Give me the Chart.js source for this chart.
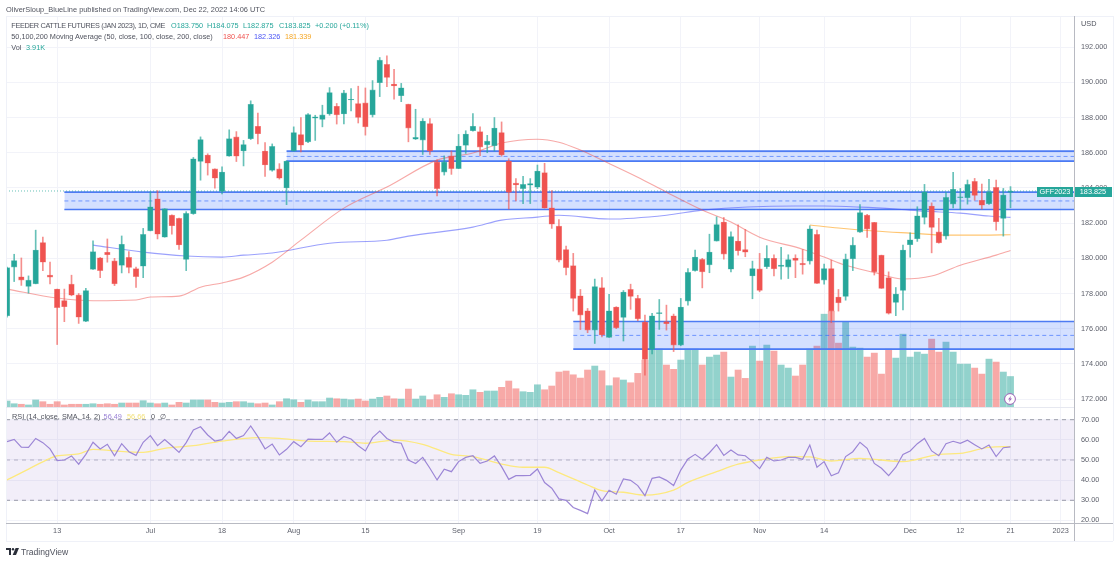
<!DOCTYPE html>
<html><head><meta charset="utf-8">
<script src="https://cdn.jsdelivr.net/npm/chart.js@4/dist/chart.umd.min.js"></script>
<style>
html,body{margin:0;padding:0;background:#fff;width:1120px;height:563px;overflow:hidden}
#wrap{position:absolute;left:0;top:0;width:1120px;height:563px;filter:blur(.3px)}
canvas{position:absolute;left:0;top:0}
.t{position:absolute;font-family:"Liberation Sans",Arial,sans-serif;font-size:7.3px;line-height:10px;color:#50535e;white-space:pre}
.l{position:absolute}
</style></head><body>
<div id="wrap">
<canvas id="main" width="1120" height="563"></canvas>
<canvas id="rsi" width="1120" height="563"></canvas>
<div id="overlay"></div>
</div>
<script>
const opens=[176.73,179.5,178.95,178.4,178.55,180.9,179.04,178.25,177.6,178.53,
177.92,176.42,179.37,180.03,180.34,179.85,179.6,180.05,179.41,179.55,
181.56,183.38,181.2,182.45,182.27,179.93,182.53,185.5,185.87,185.08,
183.8,185.8,186.9,186.1,186.8,187.5,186.1,185,185.08,184,
186.09,187.03,186.62,187.96,187.89,188.2,188.64,188.2,189,188.8,
188.83,188.15,189.98,191.02,189.9,189.24,188.76,186.77,186.72,187.66,
185.48,184.9,185.82,185.1,186.42,187.25,187.2,186.45,186.4,187.15,
185.53,184.27,183.96,184.15,184.04,184.87,182.87,181.83,180.5,179.58,
177.87,177.02,175.92,178.33,175.5,177.23,176.64,178.23,177.72,176.38,
174.82,176.85,176.4,176.73,175.07,177.57,179.3,179.94,179.63,180.98,
182.06,179.38,180.98,180.5,179,179.4,179.52,180,179.54,179.5,
180.02,179.71,179.84,181.36,178.76,179.42,177.8,177.83,179.97,181.49,
182.45,182.04,180.18,178.9,177.49,178.17,180.77,181.11,182.32,182.97,
181.5,181.26,183.08,183.45,183.44,184.37,183.3,183.1,184.03,182.26,183.75];
const highs=[179.5,180.23,180.02,179,181.6,181.2,179.78,178.25,178.25,179.04,
178,178.3,181,180.05,181.1,180,181.27,180.38,179.5,181.7,
183.78,183.85,182.82,182.47,182.28,182.65,185.73,186.9,185.94,185.08,
185.2,187.3,187.2,186.7,188.95,188.26,186.58,186.5,185.38,185.55,
187.47,188,188.23,188.13,188.7,189.7,188.8,189.55,189.65,189.78,
189.68,190.1,191.41,191.5,190.74,189.94,188.76,188.47,187.94,187.94,
185.6,185.82,186.1,187.04,187.25,188.23,187.47,186.99,188,187.75,
185.66,184.53,184.66,184.53,185.3,185.4,183.85,182.2,180.7,180.28,
178.23,177.15,178.82,178.9,177.95,177.25,178.17,178.53,177.9,176.77,
176.87,177.66,177.34,176.83,177.72,179.42,180.47,180,181.37,182.36,
182.32,181.5,181.9,181.64,179.84,180.28,180.72,180.2,180.62,180.2,
180.2,180.5,181.85,181.6,179.67,179.9,178.23,180.24,181.18,183.06,
182.5,182.04,180.18,179.23,178.34,180.75,181.45,182.93,184.2,183.15,
182.27,183.74,184.88,183.97,184.45,184.54,184.22,184.49,184.44,183.97,184.075];
const lows=[176.65,178.68,178.46,178.02,178.55,179.3,178.55,175.1,176.4,177.87,
176.3,176.4,179.37,178.9,179.78,178.45,179.17,179.17,178.35,178.9,
181.56,181.1,181.2,181.37,180.5,179.3,182.5,184.44,184.73,183.98,
183.66,185.8,185.5,185.25,186.75,186.5,184.65,184.95,184.5,183.05,
186.09,186.05,186.57,186.7,187.47,188.13,187.63,187.63,188.38,187.69,
187,188.03,189.19,189.75,189.05,188.9,186.62,186.75,185.9,185.9,
183.55,184.73,184.77,185.1,185.96,187.23,185.83,186,186.1,185.8,
182.8,183.26,183.11,183.11,183.96,182.85,181.7,179.8,179.05,177,
175.95,175.77,175.16,175.53,175.5,176,175.3,177.1,176.45,173.36,
174.56,175.96,175.92,174.7,175.03,177.34,179.27,178.32,179.18,180.98,
179.95,179.23,180.18,180.09,177.7,178.1,179.42,179,178.82,178.85,
178.9,179.1,179.67,178.57,178.53,176.34,177,177.62,179.3,181.47,
181.18,179.05,178.29,176.83,176.74,177.06,180.06,180.96,181.95,180.31,
180.86,181.09,182.87,182.78,183.08,183.3,182.8,183.06,181.6,181.26,182.875];
const closes=[179.47,179.87,178.76,178.76,180.47,179.78,178.93,177.2,177.25,177.9,
176.65,178.17,180.38,179.3,180.2,178.55,180.8,179.48,178.96,181.36,
182.93,181.37,182.82,181.85,180.76,182.55,185.66,186.75,185.4,184.55,
184.9,186.8,185.8,186.47,188.75,187.08,185.3,186.36,184.55,185.53,
187.15,186.43,188.17,188.04,188.15,189.42,188.15,189.4,189.03,188,
187.47,189.57,191.26,190.28,189.79,189.69,187.4,186.87,187.8,186.09,
183.96,185.48,185.1,186.38,187.06,187.5,186.32,186.66,187.4,185.87,
183.75,184.17,184.2,184.25,184.96,182.85,181.94,179.9,179.47,177.72,
176.77,175.92,178.4,175.64,177.02,176.05,178.08,177.83,176.56,174.25,
176.73,176.92,176.28,175.07,177.23,179.2,180.07,179.23,180.36,181.92,
180.24,181.24,180.43,180.35,179.42,178.17,180,179.4,179.62,179.93,
179.88,179.63,181.68,178.57,179.42,177,177.47,179.95,180.75,182.6,
181.66,179.23,178.29,176.87,177.97,180.47,181.05,182.42,183.78,181.75,
180.88,183.46,183.92,183.5,184.2,183.57,183.02,183.78,182.07,183.6,183.825];
const volumes=[.77,.42,.35,.26,.9,.68,.35,.68,.26,.35,
.35,.35,.42,.35,.42,.35,.51,.51,.51,.81,
.51,.42,.51,.26,.6,.51,.9,.9,.9,.6,
.51,.6,.68,.68,.51,.42,.51,.26,.68,1.06,
.93,.6,.9,.68,.68,1.15,1.06,1.02,.93,1.02,
.77,1.02,1.24,1.41,1.06,1.02,2.3,1.02,1.41,.93,
1.57,1.24,1.7,1.57,1.5,2.21,1.88,2.05,2.05,2.52,
3.33,2.34,1.96,1.88,2.85,2.21,2.69,4.48,4.61,4.13,
3.71,4.74,5.25,4.65,2.73,3.75,3.46,3.11,4.31,6.02,
7.42,7.42,5.38,4.83,6.02,7.42,7.42,5.38,6.4,6.66,
7.04,3.84,4.74,3.67,7.81,5.89,7.94,7.17,5.38,4.99,
3.97,5.38,7.42,7.81,11.9,12.29,8.19,10.88,7.68,7.55,
6.4,6.91,4.22,7.42,6.27,9.34,6.4,7.04,6.78,8.7,
7.04,8.32,7.04,5.5,5.5,4.99,4.22,6.14,5.76,4.48,3.91];
const rsiValues=[59.1,60.2,56.4,56.3,60.7,58.6,55.5,49.7,50,52,
47.9,52.8,58.8,55.5,57.8,52.1,58.1,54.1,52.3,58.8,
62.1,57.1,60.2,57.1,53.8,58.6,64.9,66.5,62.4,59.4,
60.1,64.2,60.7,62.1,66.9,61.6,55.5,57.9,52.5,55.3,
59.1,56.6,60.4,60.2,60.2,63.4,58.8,61.7,60.4,57.1,
54.5,61.1,64.4,60.7,58.9,58.3,50,48.3,51.3,45.9,
40.1,45.4,44.2,49.2,51.3,52.1,48.3,49.5,52,46.7,
40.4,42.2,42.2,42.4,45.5,38.8,36,30.7,30,26.4,
25,23.4,35.1,29.7,35,33,40.6,39.9,37.3,32.3,
40.9,41.6,39.9,37.3,45,50.5,52.8,50.3,53.6,57.6,
52.3,55,52.5,52.1,49.2,45.7,51.3,49.5,50,51.3,
51.3,50.3,57.4,46.4,49.2,42.2,43.7,51.7,54.1,58.8,
55.8,48.3,45.9,42.2,46.4,52.8,54.5,58.1,60.7,54.5,
52.1,58.1,59.3,58.3,59.8,57.6,55.5,57.4,51.7,56.1,56.49];
// moving averages, read at the bars named in the paired index list
const ma50Bars=[0,7,12,18,20,24,27,30,33,37,41,47,53,60,65,69,74,77,80,83,88,92,97,101,105,111,114,117,121,125,129,133,138,140];
const ma50Values=[178.25,177.74,177.59,177.63,177.8,177.85,178.36,178.6,178.93,179.78,181.03,182.85,184.05,185.58,185.98,186.55,186.77,186.6,186.15,185.58,184.61,183.76,182.74,182.06,181.2,180.52,180.07,179.6,179.2,178.82,178.99,179.61,180.18,180.447];
const ma100Bars=[12,19,25,30,33,37,45,53,56,65,69,74,77,84,92,97,110,114,119,124,128,133,137,140];
const ma100Values=[180.75,180.35,180.13,180.07,180.18,180.3,180.86,181.03,181.26,181.77,182.17,182.34,182.45,182.23,182.45,182.74,182.97,182.97,182.91,182.8,182.68,182.57,182.4,182.326];
const ma200Bars=[112,116,121,126,131,136,140];
const ma200Values=[181.89,181.72,181.55,181.43,181.32,181.32,181.339];
const rsiSmaBars=[0,3,6,7,10,12,15,19,22,26,30,35,38,42,47,50,54,58,62,65,69,72,75,77,81,83,86,89,93,95,99,102,105,109,112,115,119,125,130,133,137,140];
const rsiSmaValues=[40.1,45.5,50.8,52.1,53,55.3,54.5,53.8,55.8,57.1,59.4,61.1,60.7,59.4,59.1,58.3,59.9,57.8,52.8,51.7,48,46.4,46.4,43.7,37.6,34.8,34,32.6,35.1,38.9,44.2,47.9,50,51.7,51.5,49.5,50.8,49.2,52.8,53.3,56.3,56.66];
// price zones
const zoneStartBars=[8,39,79];
const zoneTops=[183.76,186.09,176.41];
const zoneMids=[183.26,185.79,175.62];
const zoneBottoms=[182.77,185.52,174.84];
// axis labels
const priceTicks=[172,174,176,178,180,182,184,186,188,190,192];
const rsiTicks=[20,30,40,50,60,70];
const timeTickBars=[7,20,30,40,50,63,74,84,94,105,114,126,133,140,147];
const timeTickLabels=['13','Jul','18','Aug','15','Sep','19','Oct','17','Nov','14','Dec','12','21','2023'];

const UP='#26a69a',DOWN='#ef5350';
const xMin=-0.14,xMax=148.86;
const isUp=i=>closes[i]>=opens[i];
const font={family:'"Liberation Sans",Arial,sans-serif',size:7.3};
const gridCol='#f2f3f9';
const pairs=(xs,ys)=>xs.map((x,i)=>({x,y:ys[i]}));
const hline=(a,b,v)=>[{x:a,y:v},{x:b,y:v}];
const xAxis=(labels)=>({type:'linear',min:xMin,max:xMax,offset:false,
  afterBuildTicks:s=>{s.ticks=timeTickBars.map(v=>({value:v}));},
  afterFit:s=>{s.height=labels?18:0;},
  grid:{color:gridCol,drawTicks:false,offset:false},border:{display:false},
  ticks:{display:labels,autoSkip:false,maxRotation:0,padding:4,color:'#5f626d',font,
    callback:v=>timeTickLabels[timeTickBars.indexOf(v)]}});
const yAxis=(min,max,ticks,dec)=>({position:'right',min,max,
  afterBuildTicks:s=>{s.ticks=ticks.map(v=>({value:v}));},
  afterFit:s=>{s.width=39;},
  grid:{color:gridCol,drawTicks:false},border:{display:false},
  ticks:{padding:7,color:'#5f626d',font,callback:v=>v.toFixed(dec)}});

const lineDs=(data,color,w,extra)=>Object.assign({type:'line',data,borderColor:color,borderWidth:w,pointRadius:0,fill:false,tension:0,order:4,yAxisID:'y'},extra||{});

const mainSets=[];
mainSets.push({type:'bar',yAxisID:'v',order:10,barThickness:6.2,grouped:false,
  data:volumes.map((v,i)=>({x:i,y:v})),
  backgroundColor:volumes.map((v,i)=>isUp(i)?'rgba(38,166,154,.5)':'rgba(239,83,80,.5)')});
zoneStartBars.forEach((s,k)=>{
  mainSets.push(lineDs(hline(s,xMax,zoneTops[k]),'#4d7bf3',1.6,{order:6,fill:'+1',backgroundColor:'rgba(41,98,255,.2)'}));
  mainSets.push(lineDs(hline(s,xMax,zoneBottoms[k]),'#4d7bf3',1.6,{order:6}));
  mainSets.push(lineDs(hline(s,xMax,zoneMids[k]),'rgba(41,98,255,.6)',1,{order:6,borderDash:[4,3]}));
});
mainSets.push(lineDs(hline(xMin,xMax,closes[closes.length-1]),'rgba(38,166,154,.7)',1,{order:5,borderDash:[1,2]}));
mainSets.push(lineDs(pairs(ma50Bars,ma50Values),'rgba(239,83,80,.5)',1.1,{cubicInterpolationMode:'monotone'}));
mainSets.push(lineDs(pairs(ma100Bars,ma100Values),'rgba(72,84,250,.55)',1.1,{cubicInterpolationMode:'monotone'}));
mainSets.push(lineDs(pairs(ma200Bars,ma200Values),'rgba(255,183,77,.8)',1.1,{cubicInterpolationMode:'monotone'}));
mainSets.push({type:'bar',yAxisID:'y',order:3,barThickness:1,grouped:false,
  data:closes.map((c,i)=>({x:i,y:[lows[i],highs[i]]})),
  backgroundColor:closes.map((c,i)=>isUp(i)?'rgba(38,166,154,.7)':'rgba(239,83,80,.65)')});
mainSets.push({type:'bar',yAxisID:'y',order:2,barThickness:5.6,grouped:false,borderWidth:.6,borderSkipped:false,
  data:closes.map((c,i)=>({x:i,y:[opens[i],c]})),
  backgroundColor:closes.map((c,i)=>isUp(i)?UP:DOWN),
  borderColor:closes.map((c,i)=>isUp(i)?'rgba(38,166,154,.6)':'rgba(239,83,80,.6)')});

const common={responsive:false,animation:false,events:[],devicePixelRatio:1,
  plugins:{legend:{display:false},tooltip:{enabled:false}}};
new Chart(document.getElementById('main'),{type:'bar',data:{datasets:mainSets},options:Object.assign({},common,{
  layout:{padding:{left:6,right:7,top:16,bottom:156}},
  scales:{x:xAxis(false),y:yAxis(171.55,193.77,priceTicks,3),
    v:{display:false,min:0,max:50.13,position:'right'}}
})});
const rsiSets=[
  lineDs(hline(xMin,xMax,70),'#9a9ca8',1,{borderDash:[4,4],fill:'+1',backgroundColor:'rgba(126,87,194,.1)',order:6}),
  lineDs(hline(xMin,xMax,30),'#9a9ca8',1,{borderDash:[4,4],order:6}),
  lineDs(hline(xMin,xMax,50),'#b9bac4',1,{borderDash:[4,4],order:6}),
  lineDs(rsiValues.map((v,i)=>({x:i,y:v})),'#9c86d6',1.2,{order:2}),
  lineDs(pairs(rsiSmaBars,rsiSmaValues),'#fde97f',1.3,{order:3,cubicInterpolationMode:'monotone'})
];
new Chart(document.getElementById('rsi'),{type:'line',data:{datasets:rsiSets},options:Object.assign({},common,{
  layout:{padding:{left:6,right:7,top:407,bottom:22}},
  scales:{x:xAxis(true),y:yAxis(18.73,76.3,rsiTicks,2)}
})});

// overlay text and frame
const ov=document.getElementById('overlay');
function T(x,y,s,col,extra){const d=document.createElement('div');d.className='t';d.textContent=s;d.style.left=x+'px';d.style.top=(y-5)+'px';if(col)d.style.color=col;if(extra)Object.assign(d.style,extra);ov.appendChild(d);return d;}
function L(x,y,w,h,c){const d=document.createElement('div');d.className='l';d.style.cssText+=`left:${x}px;top:${y}px;width:${w}px;height:${h}px;background:${c}`;ov.appendChild(d);}
L(6,16,1107,1,'#eff1f8');L(6,16,1,525,'#eff1f8');L(6,541,1107,1,'#eff1f8');L(1113,16,1,525,'#eff1f8');
L(6,407,1068,1,'#e6e8f0');
L(6,523,1107,1,'#b8bac2');
L(1073.5,16,1.5,525,'#b8bac2');
T(6,9.5,'OliverSloup_BlueLine published on TradingView.com, Dec 22, 2022 14:06 UTC','#50535e',{fontSize:'7.4px'});
T(11.3,26,'FEEDER CATTLE FUTURES (JAN 2023), 1D, CME',null,{letterSpacing:'-.35px'});
T(171,26,'O183.750',UP);T(207,26,'H184.075',UP);T(243,26,'L182.875',UP);T(279,26,'C183.825',UP);T(315,26,'+0.200 (+0.11%)',UP);
T(11.3,37,'50,100,200 Moving Average (50, close, 100, close, 200, close)');
T(223,37,'180.447','#ef5350');T(254,37,'182.326','#4a55f5');T(285,37,'181.339','#f5a623');
T(11.3,47.7,'Vol');T(26,47.7,'3.91K',UP);
T(1081,24,'USD');
T(12,417,'RSI (14, close, SMA, 14, 2)');T(103.6,417,'56.49','#9a82d6');T(127,417,'56.66','#f2e07a');T(151,417,'0');T(160,417,'\u2205');
T(21,552,'TradingView','#50535e',{fontSize:'8.6px'});
// price pills
const pill=(x,w,s)=>{L(x,187,w,9.5,UP);T(x,191.6,s,'#fff',{width:w+'px',textAlign:'center'});};
pill(1037,36,'GFF2023');pill(1074.5,37,'183.825');
// lightning badge and logo
ov.insertAdjacentHTML('beforeend',`<svg style="position:absolute;left:1003px;top:392px" width="14" height="14" viewBox="0 0 14 14"><circle cx="7" cy="7" r="5.4" fill="#fff" stroke="#9c5fb5" stroke-width="1"/><path d="M8.2 3.8 5 7.5h1.8L5.8 10.2 9 6.4H7.2z" fill="#9c5fb5"/></svg>
<svg style="position:absolute;left:6px;top:548px" width="13" height="8" viewBox="0 0 13 8"><path d="M0 0h5v7H3V2H0z" fill="#2a2e39"/><circle cx="7" cy="1.3" r="1.2" fill="#2a2e39"/><path d="M9.6 0H13l-3 7H6.7z" fill="#2a2e39"/></svg>`);
</script></body></html>
